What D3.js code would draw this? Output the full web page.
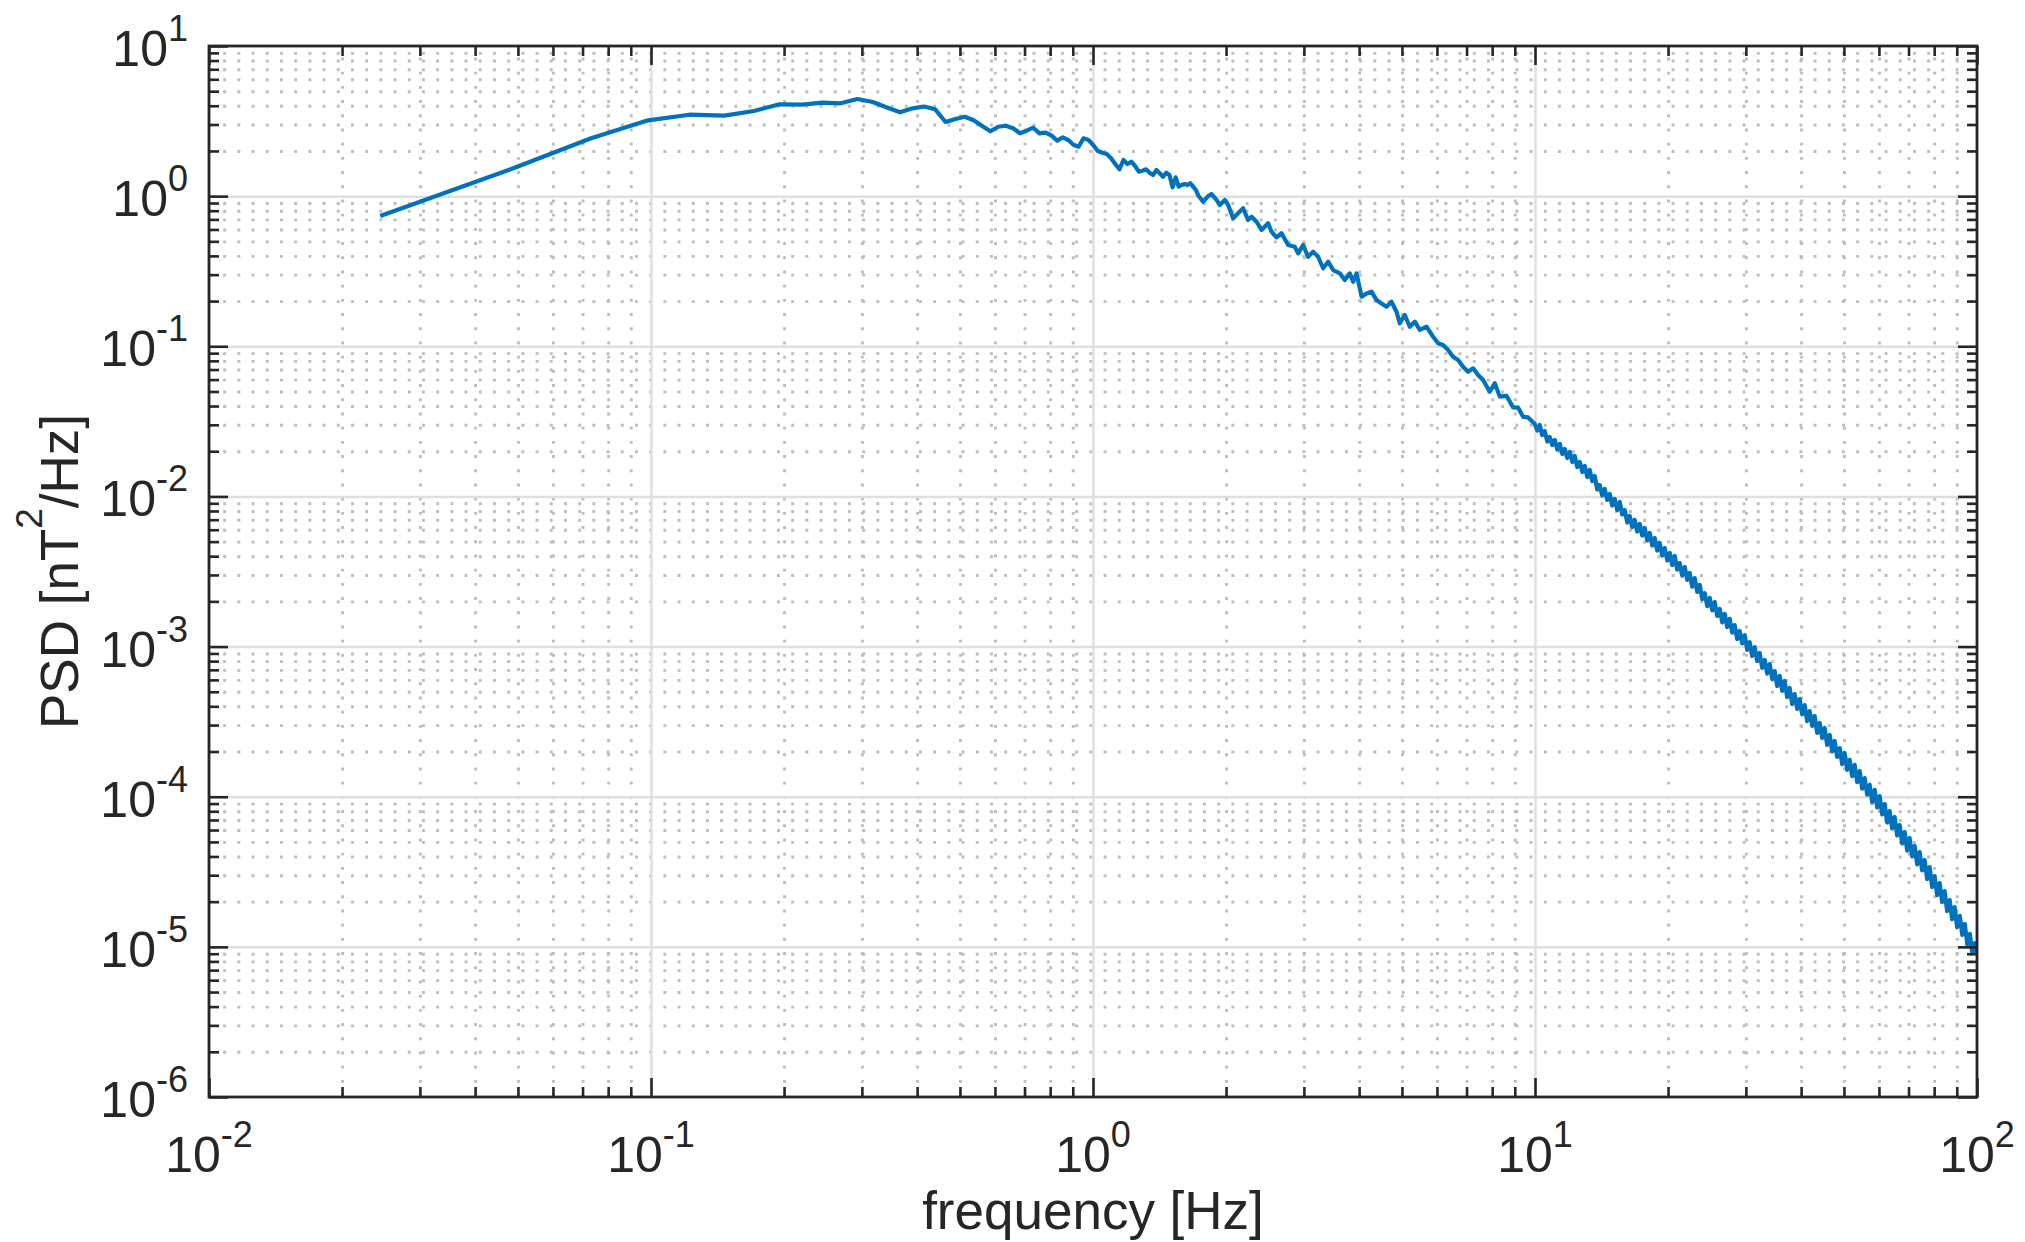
<!DOCTYPE html>
<html>
<head>
<meta charset="utf-8">
<script src="https://cdn.jsdelivr.net/npm/d3@7"></script>
<style>
  html, body { margin: 0; padding: 0; background: #fff; }
  svg { display: block; font-family: "Liberation Sans", Arial, Helvetica, sans-serif; }
  .grid .domain, .ticks .domain { display: none; }
  .grid-minor line { stroke: #bdbdbd; stroke-width: 2.9; stroke-dasharray: 2.9 11.3; }
  .grid-major line { stroke: #dfdfdf; stroke-width: 2.5; }
  .ticks line { stroke: #262626; stroke-width: 2.6; }
  .box { fill: none; stroke: #262626; stroke-width: 2.8; }
  .tick-label { fill: #262626; font-size: 50px; }
  .axis-label { fill: #262626; font-size: 53px; }
  .psd { fill: none; stroke: #0072bd; stroke-width: 4.2; stroke-linejoin: round; }
</style>
</head>
<body>
<script>
// FFT bins below ~1.7 Hz (one value per bin, df = 0.0244 Hz)
var lowFreq = [0.0244, 0.0488, 0.0732, 0.0977, 0.1221, 0.1465, 0.1709, 0.1953, 0.2197, 0.2441,
  0.2686, 0.2930, 0.3174, 0.3418, 0.3662, 0.3906, 0.4150, 0.4395, 0.4639, 0.4883,
  0.5127, 0.5371, 0.5615, 0.5859, 0.6104, 0.6348, 0.6592, 0.6836, 0.7080, 0.7324,
  0.7568, 0.7813, 0.8057, 0.8301, 0.8545, 0.8789, 0.9033, 0.9277, 0.9521, 0.9766,
  1.0010, 1.0254, 1.0498, 1.0742, 1.0986, 1.1230, 1.1475, 1.1719, 1.1963, 1.2207,
  1.2451, 1.2695, 1.2939, 1.3184, 1.3428, 1.3672, 1.3916, 1.4160, 1.4404, 1.4648,
  1.4893, 1.5137, 1.5381, 1.5625, 1.5869, 1.6113, 1.6357, 1.6602, 1.6846, 1.7090, 1.7334];
var lowPsd = [0.737, 1.532, 2.428, 3.181, 3.486, 3.434, 3.691, 4.090, 4.070, 4.193,
  4.154, 4.436, 4.236, 3.894, 3.618, 3.846, 3.954, 3.787, 3.118, 3.265,
  3.382, 3.200, 2.932, 2.703, 2.900, 2.945, 2.830, 2.621, 2.728, 2.856,
  2.621, 2.646, 2.527, 2.341, 2.465, 2.365, 2.201, 2.135, 2.428, 2.365,
  2.191, 1.998, 1.947, 1.909, 1.787, 1.637, 1.509, 1.741, 1.637, 1.696,
  1.588, 1.455, 1.477, 1.509, 1.433, 1.383, 1.493, 1.419, 1.347, 1.433,
  1.383, 1.145, 1.335, 1.156, 1.186, 1.205, 1.186, 1.218, 1.156, 1.099, 1.002];

// 1.7 - 10 Hz, peaks and dips
var midFreq = [1.775, 1.822, 1.854, 1.903, 1.936, 1.987, 2.022, 2.075, 2.130, 2.186,
  2.243, 2.284, 2.344, 2.406, 2.490, 2.534, 2.601, 2.670, 2.764, 2.861,
  2.911, 2.988, 3.066, 3.148, 3.231, 3.316, 3.404, 3.494, 3.618, 3.713,
  3.811, 3.877, 3.947, 4.051, 4.158, 4.267, 4.380, 4.495, 4.613, 4.735,
  4.860, 4.944, 5.074, 5.208, 5.347, 5.488, 5.683, 5.882, 6.037, 6.196,
  6.359, 6.526, 6.699, 6.875, 7.056, 7.244, 7.434, 7.630, 7.900, 8.110,
  8.324, 8.620, 8.922, 9.158, 9.399, 9.647];
var midPsd = [0.918, 1.002, 1.033, 0.943, 0.873, 0.943, 0.873, 0.712, 0.769, 0.830,
  0.694, 0.730, 0.676, 0.595, 0.659, 0.580, 0.532, 0.566, 0.473, 0.460,
  0.416, 0.473, 0.395, 0.427, 0.395, 0.331, 0.366, 0.322, 0.306, 0.276,
  0.306, 0.269, 0.306, 0.214, 0.225, 0.231, 0.203, 0.193, 0.1835, 0.198,
  0.170, 0.1422, 0.1615, 0.135, 0.1458, 0.1284, 0.135, 0.1158, 0.1047, 0.102,
  0.0945, 0.0852, 0.0810, 0.0731, 0.0677, 0.0713, 0.0644, 0.0596, 0.0498, 0.0567,
  0.0462, 0.0468, 0.0392, 0.0390, 0.0339, 0.0336];

// 10 - 20 Hz, upper / lower edge of the noisy trace
var highFreq = [9.99, 10.12, 10.25, 10.38, 10.52, 10.66, 10.80, 10.94, 11.09, 11.23,
  11.38, 11.53, 11.68, 11.83, 11.99, 12.15, 12.30, 12.46, 12.63, 12.80,
  12.96, 13.13, 13.30, 13.47, 13.65, 13.83, 14.01, 14.19, 14.38, 14.57,
  14.76, 14.95, 15.15, 15.35, 15.55, 15.75, 15.96, 16.17, 16.38, 16.59,
  16.81, 17.03, 17.26, 17.48, 17.71, 17.94, 18.18, 18.42, 18.66, 18.90,
  19.15, 19.40, 19.66, 19.92];
var highPsd = [0.03037, 0.02749, 0.02990, 0.02565, 0.02727, 0.02321, 0.02487, 0.02201, 0.02376, 0.02053,
  0.02234, 0.01916, 0.02069, 0.01803, 0.01976, 0.01695, 0.01859, 0.01570, 0.01695, 0.01454,
  0.01595, 0.01347, 0.01500, 0.01267, 0.01368, 0.01112, 0.01191, 0.01014, 0.01120, 0.00947,
  0.01038, 0.00870, 0.00961, 0.00812, 0.00918, 0.00758, 0.00812, 0.00670, 0.00741, 0.00626,
  0.00697, 0.00584, 0.00655, 0.00549, 0.00616, 0.00509, 0.00571, 0.00471, 0.00528, 0.00436,
  0.00490, 0.00404, 0.00453, 0.00374];

// 20 - 100 Hz, the band of noise, read more densely
var topFreq = [20.18, 20.44, 20.71, 20.98, 21.25, 21.53, 21.82, 22.10, 22.39, 22.68,
  22.98, 23.28, 23.59, 23.90, 24.21, 24.53, 24.85, 25.18, 25.50, 25.84,
  26.18, 26.52, 26.87, 27.22, 27.58, 27.94, 28.30, 28.67, 29.05, 29.43,
  29.82, 30.21, 30.60, 31.00, 31.41, 31.82, 32.24, 32.66, 33.09, 33.52,
  33.96, 34.41, 34.86, 35.32, 35.78, 36.25, 36.72, 37.20, 37.69, 38.18,
  38.68, 39.19, 39.70, 40.22, 40.75, 41.28, 41.83, 42.38, 42.93, 43.49,
  44.06, 44.64, 45.22, 45.81, 46.42, 47.03, 47.64, 48.26, 48.90, 49.54,
  50.19, 50.85, 51.51, 52.19, 52.87, 53.56, 54.27, 54.98, 55.70, 56.43,
  57.17, 57.92, 58.68, 59.45, 60.22, 61.01, 61.81, 62.62, 63.44, 64.27,
  65.12, 65.97, 66.84, 67.72, 68.60, 69.50, 70.41, 71.33, 72.27, 73.22,
  74.17, 75.14, 76.13, 77.13, 78.14, 79.16, 80.20, 81.25, 82.31, 83.39,
  84.49, 85.60, 86.72, 87.86, 89.00, 90.17, 91.43, 92.62, 93.84, 95.07,
  96.32, 97.58, 98.86, 100];
var topPsd = [0.00420, 0.00349, 0.00401, 0.00326, 0.00360, 0.00297, 0.00339, 0.00278, 0.00309, 0.00251,
  0.00286, 0.00231, 0.00257, 0.00207, 0.00227, 0.00186, 0.00211, 0.00174, 0.00198, 0.00160,
  0.00178, 0.00145, 0.00165, 0.00135, 0.00153, 0.00124, 0.00139, 0.00112, 0.00127, 0.00105,
  0.00119, 9.49e-4, 1.07e-3, 8.65e-4, 9.93e-4, 8.01e-4, 9.06e-4, 7.20e-4, 8.14e-4, 6.61e-4,
  7.65e-4, 6.08e-4, 6.87e-4, 5.46e-4, 6.37e-4, 5.06e-4, 5.90e-4, 4.61e-4, 5.30e-4, 4.14e-4,
  4.83e-4, 3.84e-4, 4.47e-4, 3.53e-4, 4.08e-4, 3.19e-4, 3.72e-4, 2.96e-4, 3.45e-4, 2.66e-4,
  3.10e-4, 2.46e-4, 2.87e-4, 2.21e-4, 2.58e-4, 2.00e-4, 2.35e-4, 1.84e-4, 2.11e-4, 1.65e-4,
  1.95e-4, 1.51e-4, 1.76e-4, 1.37e-4, 1.63e-4, 1.25e-4, 1.48e-4, 1.13e-4, 1.33e-4, 1.03e-4,
  1.20e-4, 9.22e-5, 1.11e-4, 8.47e-5, 1.01e-4, 7.61e-5, 8.94e-5, 6.73e-5, 8.03e-5, 6.14e-5,
  7.33e-5, 5.52e-5, 6.48e-5, 4.88e-5, 5.82e-5, 4.38e-5, 5.31e-5, 4.00e-5, 4.70e-5, 3.54e-5,
  4.28e-5, 3.23e-5, 3.79e-5, 2.83e-5, 3.40e-5, 2.50e-5, 2.96e-5, 2.21e-5, 2.66e-5, 1.99e-5,
  2.35e-5, 1.73e-5, 2.05e-5, 1.53e-5, 1.84e-5, 1.35e-5, 1.61e-5, 1.20e-5, 1.42e-5, 1.04e-5,
  1.22e-5, 9.10e-6, 1.06e-5, 9.10e-6];

var xMajor = [0.01, 0.1, 1, 10, 100];
var xExponents = ['-2', '-1', '0', '1', '2'];
var yMajor = [1e-6, 1e-5, 1e-4, 1e-3, 1e-2, 1e-1, 1, 10];
var yExponents = ['-6', '-5', '-4', '-3', '-2', '-1', '0', '1'];
var xTitle = 'frequency [Hz]';

(function() {
  var width = 2025;
  var height = 1242;
  var plot = { left: 209, right: 1977, top: 46, bottom: 1097 };
  var plotW = plot.right - plot.left;
  var plotH = plot.bottom - plot.top;
  var x, y;

  function pairs(f, p) {
    return d3.range(Math.min(f.length, p.length)).map(i => ({ f: f[i], p: p[i] }));
  }

  function minorsOf(major) {
    var out = [];
    major.slice(0, -1).forEach(v => {
      for (var m = 2; m <= 9; m++) out.push(m * v);
    });
    return out;
  }

  function computeScale() {
    x = d3.scaleLog().domain([0.01, 100]).range([plot.left, plot.right]);
    y = d3.scaleLog().domain([1e-6, 10]).range([plot.bottom, plot.top]);
  }

  function drawGrid(svg) {
    var xMinor = minorsOf(xMajor);
    var yMinor = minorsOf(yMajor);

    svg.append('g')
      .attr('class', 'grid grid-minor')
      .attr('transform', `translate(0, ${plot.bottom})`)
      .call(d3.axisBottom(x).tickValues(xMinor).tickSize(-plotH).tickFormat(''));
    svg.append('g')
      .attr('class', 'grid grid-minor')
      .attr('transform', `translate(${plot.left}, 0)`)
      .call(d3.axisLeft(y).tickValues(yMinor).tickSize(-plotW).tickFormat(''));

    svg.append('g')
      .attr('class', 'grid grid-major')
      .attr('transform', `translate(0, ${plot.bottom})`)
      .call(d3.axisBottom(x).tickValues(xMajor.slice(1, -1)).tickSize(-plotH).tickFormat(''));
    svg.append('g')
      .attr('class', 'grid grid-major')
      .attr('transform', `translate(${plot.left}, 0)`)
      .call(d3.axisLeft(y).tickValues(yMajor.slice(1, -1)).tickSize(-plotW).tickFormat(''));
  }

  function drawLine(svg, data) {
    var line = d3.line()
      .x(d => x(d.f))
      .y(d => y(d.p));

    svg.append('clipPath')
      .attr('id', 'plot-area')
      .append('rect')
      .attr('x', plot.left)
      .attr('y', plot.top)
      .attr('width', plotW)
      .attr('height', plotH);

    svg.append('path')
      .datum(data)
      .attr('class', 'psd')
      .attr('d', line)
      .attr('clip-path', 'url(#plot-area)');
  }

  function drawAxes(svg) {
    var xMinor = minorsOf(xMajor);
    var yMinor = minorsOf(yMajor);
    var majorLen = 19;
    var minorLen = 10;

    svg.append('rect')
      .attr('class', 'box')
      .attr('x', plot.left)
      .attr('y', plot.top)
      .attr('width', plotW)
      .attr('height', plotH);

    // ticks on all four sides, pointing inward
    [[d3.axisBottom, `translate(0, ${plot.bottom})`, x, xMajor, xMinor],
     [d3.axisTop, `translate(0, ${plot.top})`, x, xMajor, xMinor],
     [d3.axisLeft, `translate(${plot.left}, 0)`, y, yMajor, yMinor],
     [d3.axisRight, `translate(${plot.right}, 0)`, y, yMajor, yMinor]
    ].forEach(a => {
      svg.append('g')
        .attr('class', 'ticks')
        .attr('transform', a[1])
        .call(a[0](a[2]).tickValues(a[4]).tickSize(-minorLen).tickFormat(''));
      svg.append('g')
        .attr('class', 'ticks')
        .attr('transform', a[1])
        .call(a[0](a[2]).tickValues(a[3]).tickSize(-majorLen).tickFormat(''));
    });

    // tick labels, 10 with a raised exponent
    var xt = svg.append('g')
      .selectAll('text')
      .data(xMajor.map((v, i) => ({ v: v, e: xExponents[i] })))
      .join('text')
      .attr('class', 'tick-label')
      .attr('x', d => x(d.v))
      .attr('y', plot.bottom + 75)
      .attr('text-anchor', 'middle');
    xt.append('tspan').text('10');
    xt.append('tspan').attr('dy', -25).attr('font-size', 36).text(d => d.e);

    var yt = svg.append('g')
      .selectAll('text')
      .data(yMajor.map((v, i) => ({ v: v, e: yExponents[i] })))
      .join('text')
      .attr('class', 'tick-label')
      .attr('x', plot.left - 21)
      .attr('y', d => y(d.v) + 20)
      .attr('text-anchor', 'end');
    yt.append('tspan').text('10');
    yt.append('tspan').attr('dy', -25).attr('font-size', 36).text(d => d.e);

    svg.append('text')
      .attr('class', 'axis-label')
      .attr('x', (plot.left + plot.right) / 2)
      .attr('y', 1229)
      .attr('text-anchor', 'middle')
      .text(xTitle);

    var yl = svg.append('text')
      .attr('class', 'axis-label')
      .attr('transform', `translate(78, ${(plot.top + plot.bottom) / 2}) rotate(-90)`)
      .attr('text-anchor', 'middle');
    yl.append('tspan').text('PSD [nT');
    yl.append('tspan').attr('dy', -36).attr('font-size', 37).text('2');
    yl.append('tspan').attr('dy', 36).text('/Hz]');
  }

  var svg = d3.select('body')
    .append('svg')
    .attr('width', width)
    .attr('height', height);

  svg.append('rect')
    .attr('width', width)
    .attr('height', height)
    .attr('fill', '#fff');

  var data = pairs(lowFreq, lowPsd)
    .concat(pairs(midFreq, midPsd))
    .concat(pairs(highFreq, highPsd))
    .concat(pairs(topFreq, topPsd));

  computeScale();
  drawGrid(svg);
  drawLine(svg, data);
  drawAxes(svg);
})();
</script>
</body>
</html>
